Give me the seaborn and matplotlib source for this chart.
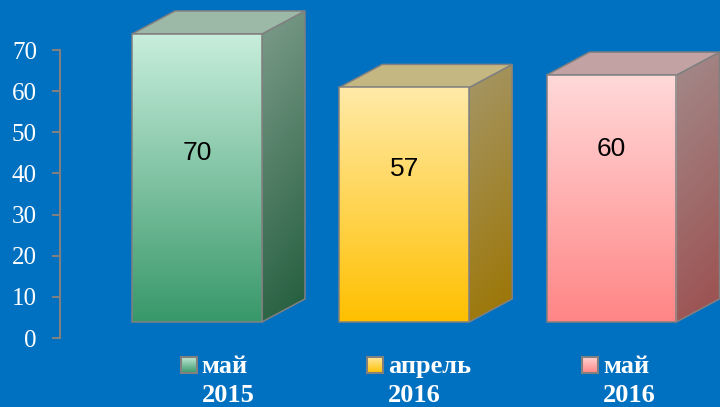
import numpy as np
import pandas as pd
import matplotlib
matplotlib.use('Agg')
from matplotlib import pyplot as plt
from matplotlib.colors import LinearSegmentedColormap
from matplotlib.patches import Polygon, Rectangle
import seaborn as sns

# data
periods = ['май 2015', 'апрель 2016', 'май 2016']
months = ['май', 'апрель', 'май']
years = ['2015', '2016', '2016']
values = [70, 57, 60]

# colours per bar
front_top = ['#c8eedc', '#ffeaa8', '#ffd9d9']
front_bottom = ['#38986a', '#ffc000', '#ff8585']
side_top = ['#7d9c8a', '#a59769', '#a38b8b']
side_bottom = ['#215c3c', '#9c7400', '#9c4e4e']
top_face = ['#9bb9a6', '#c5b781', '#c2a2a2']

BG = '#0070c0'
EDGE = '#808080'

# layout
lift = 3.9           # front face sits a bit above the floor (3D look)
dx, dy = 0.2075, 5.6  # depth of the boxes
label_y = [45, 41, 46]
legend_dx = [-0.04, -0.142, -0.104]

sns.set_style('white')
plt.rcParams['font.family'] = ['Liberation Serif', 'DejaVu Serif']

fig = plt.figure(figsize=(7.2, 4.07), dpi=100, facecolor=BG)
ax = fig.add_axes([0, 0, 1, 1])
ax.set_facecolor(BG)

df = pd.DataFrame({'period': periods, 'value': values})
sns.barplot(data=df, x='period', y='value', hue='period', palette=front_bottom,
            legend=False, width=0.627, edgecolor=EDGE, linewidth=1.1, ax=ax)

bars = sorted(ax.patches, key=lambda p: p.get_x())
for i, p in enumerate(bars):
    x0, w, h = p.get_x(), p.get_width(), p.get_height()
    p.set_y(lift)
    p.set_facecolor('none')
    p.set_zorder(5)

    # front gradient
    cm = LinearSegmentedColormap.from_list(f'f{i}', [front_bottom[i], front_top[i]])
    grad = np.linspace(0, 1, 256).reshape(-1, 1)
    im = ax.imshow(grad, cmap=cm, origin='lower', aspect='auto',
                   extent=[x0, x0 + w, lift, lift + h], zorder=4)
    im.set_clip_path(p)

    # side face
    x1 = x0 + w
    side = Polygon([(x1, lift), (x1 + dx, lift + dy), (x1 + dx, lift + h + dy), (x1, lift + h)],
                   closed=True, facecolor='none', edgecolor=EDGE, linewidth=1.1, zorder=3)
    ax.add_patch(side)
    cs = LinearSegmentedColormap.from_list(f's{i}', [side_top[i], side_bottom[i]])
    yy, xx = np.mgrid[0:1:200j, 0:1:50j]
    t = 0.85 * (1 - yy) + 0.15 * xx
    im2 = ax.imshow(t, cmap=cs, origin='lower', aspect='auto', vmin=0, vmax=1,
                    extent=[x1, x1 + dx, lift, lift + h + dy], zorder=2)
    im2.set_clip_path(side)

    # top face
    top = Polygon([(x0, lift + h), (x0 + dx, lift + h + dy), (x1 + dx, lift + h + dy), (x1, lift + h)],
                  closed=True, facecolor=top_face[i], edgecolor=EDGE, linewidth=1.1, zorder=3)
    ax.add_patch(top)

    # value label
    ax.text(x0 + w / 2, label_y[i], str(values[i]), ha='center', va='center',
            fontsize=19, color='black', family=['Liberation Sans', 'DejaVu Sans'], zorder=6)

    # legend-like label under each bar
    cx = x0 + w / 2 + legend_dx[i]
    sw, sh = 0.077, 3.9
    cl = LinearSegmentedColormap.from_list(f'l{i}', [front_bottom[i], front_top[i]])
    ax.imshow(grad, cmap=cl, origin='lower', aspect='auto',
              extent=[cx - sw / 2, cx + sw / 2, -6.6 - sh / 2, -6.6 + sh / 2], zorder=4)
    ax.add_patch(Rectangle((cx - sw / 2, -6.6 - sh / 2), sw, sh, facecolor='none',
                           edgecolor=EDGE, linewidth=1.5, zorder=5))
    ax.text(cx + 0.063, -7.0, months[i], ha='left', va='center', fontsize=19,
            fontweight='bold', color='white')
    ax.text(cx + 0.063, -13.9, years[i], ha='left', va='center', fontsize=19,
            fontweight='bold', color='white')

ax.set_xlim(-0.9505, 2.5235)
ax.set_ylim(-16.77, 82.16)
ax.set_xticks([])
ax.set_yticks(range(0, 80, 10))
ax.set_xlabel('')
ax.set_ylabel('')
for s in ['top', 'right', 'bottom']:
    ax.spines[s].set_visible(False)
ax.spines['left'].set_position(('data', -0.661))
ax.spines['left'].set_bounds(0, 70)
ax.spines['left'].set_color(EDGE)
ax.spines['left'].set_linewidth(1.5)
ax.tick_params(axis='y', direction='out', length=5.8, width=1.5, color=EDGE,
               labelcolor='white', labelsize=18, pad=10.8, left=True)

plt.savefig('out.png', dpi=100, facecolor=BG)
